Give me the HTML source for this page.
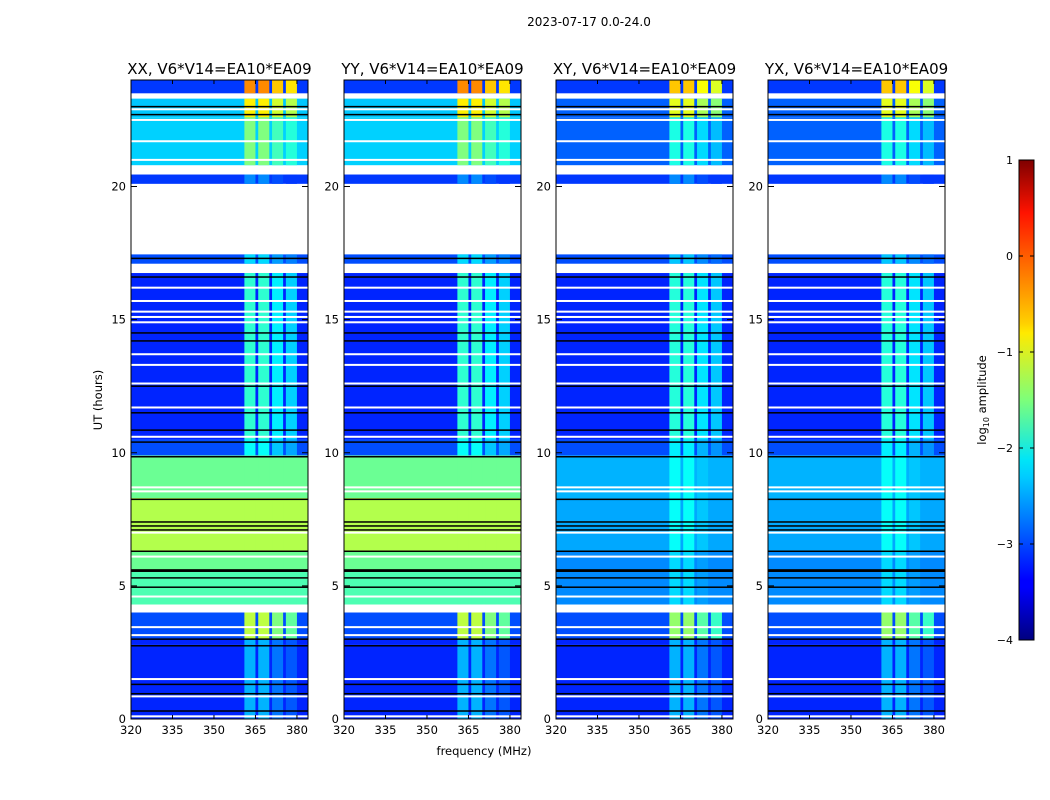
<!DOCTYPE html>
<html><head><meta charset="utf-8"><style>
body{margin:0;background:#fff;}
svg{display:block;font-family:"DejaVu Sans","Liberation Sans",sans-serif;}
</style></head><body>
<svg id="fig" width="1050" height="800" viewBox="0 0 1050 800">
<defs>
<linearGradient id="jet" x1="0" y1="1" x2="0" y2="0">
<stop offset="0" stop-color="#00007f"/><stop offset="0.11" stop-color="#0000ff"/><stop offset="0.125" stop-color="#0000ff"/>
<stop offset="0.34" stop-color="#00ccff"/><stop offset="0.375" stop-color="#00e5f7"/><stop offset="0.5" stop-color="#7dff7a"/>
<stop offset="0.64" stop-color="#ffea00"/><stop offset="0.66" stop-color="#ffd000"/><stop offset="0.89" stop-color="#ff1300"/><stop offset="1" stop-color="#7f0000"/>
</linearGradient>
</defs>
<text x="589" y="26" font-size="12" text-anchor="middle">2023-07-17 0.0-24.0</text>
<text x="484" y="755" font-size="11.5" text-anchor="middle">frequency (MHz)</text>
<text transform="translate(102,400) rotate(-90)" font-size="11.5" text-anchor="middle">UT (hours)</text>
<g id="panels"></g>
<g id="cbar">
<rect x="1019" y="160" width="15" height="480" fill="url(#jet)" stroke="#000" stroke-width="1"/>
</g>
<text transform="translate(986,400) rotate(-90)" font-size="11.5" text-anchor="middle">log<tspan font-size="8" dy="3">10</tspan><tspan dy="-3"> amplitude</tspan></text>
</svg>
<script>
const panelTitles=["XX, V6*V14=EA10*EA09","YY, V6*V14=EA10*EA09","XY, V6*V14=EA10*EA09","YX, V6*V14=EA10*EA09"];
const panelCross=[false,false,true,true];
const segStart=[0.0,2.8,3.0,4.0,4.3,5.6,6.3,8.3,9.9,10.5,16.75,17.1,17.45,20.1,20.45,20.8,22.6,23.3,23.5];
const segEnd  =[2.8,3.0,4.0,4.3,5.6,6.3,8.3,9.9,10.5,16.75,17.1,17.45,20.1,20.45,20.8,22.6,23.3,23.5,24.0];
const basePar =[-3.2,-3.2,-3.0,null,-1.75,-1.6,-1.25,-1.6,-3.0,-3.2,null,-3.0,null,-3.1,null,-2.35,-2.4,null,-3.1];
const baseCross=[-3.2,-3.2,-3.0,null,-2.7,-2.7,-2.55,-2.5,-3.0,-3.2,null,-3.0,null,-3.1,null,-2.9,-2.9,null,-3.1];
const rfiPar  =[-2.5,-2.5,-1.2,null,-1.75,-1.6,-1.4,-1.7,-2.1,-1.9,null,-2.3,null,-2.7,null,-1.5,-0.8,null,-0.3];
const rfiCross=[-2.5,-2.5,-1.4,null,-2.3,-2.3,-2.1,-2.1,-2.2,-1.95,null,-2.4,null,-2.7,null,-2.0,-1.0,null,-0.6];
const rfiLo=[361,366,371,376];
const rfiHi=[365,370,375,380];
const rfiW =[1.0,1.0,0.8,0.7];
const whiteLines=[0.1,0.85,1.5,3.15,3.45,4.6,6.1,7.0,8.55,8.7,10.6,11.7,12.6,13.3,13.7,14.9,15.1,15.3,15.7,16.2,21.0,21.7,22.5,22.9];
const blackLines=[0.3,0.95,1.3,2.75,3.0,4.95,5.3,5.55,5.6,6.3,7.1,7.25,7.4,8.25,9.85,10.4,10.85,11.5,12.5,14.2,14.5,16.6,17.3,22.7,23.0];
const xTicks=[320,335,350,365,380];
const yTicks=[0,5,10,15,20];
const cbTicks=[1,0,-1,-2,-3,-4];

function jet(v){let t=(v+4)/5;t=Math.max(0,Math.min(1,t));
 const f=(x)=>Math.max(0,Math.min(1,x));
 const r=f(1.5-Math.abs(4*t-3)),g=f(1.5-Math.abs(4*t-2)),b=f(1.5-Math.abs(4*t-1));
 return `rgb(${Math.round(r*255)},${Math.round(g*255)},${Math.round(b*255)})`;}
const NS="http://www.w3.org/2000/svg";
function el(tag,attrs,parent){const e=document.createElementNS(NS,tag);for(const k in attrs)e.setAttribute(k,attrs[k]);parent.appendChild(e);return e;}
const panelX=[131,344,556,768],PW=177,PT=80,PB=719;
const fx=(f,x0)=>x0+(f-320)/64*PW;
const hy=(h)=>PB-h/24*(PB-PT);
const cy=(v)=>640-(v+4)/5*480;
const root=document.getElementById('panels');
panelX.forEach((x0,p)=>{
 const g=el('g',{},root);
 
 
 const cross=panelCross[p];
 for(let i=0;i<segStart.length;i++){
  const b=cross?baseCross[i]:basePar[i];if(b===null)continue;
  const y1=hy(segEnd[i]),y2=hy(segStart[i]);
  const r=el('rect',{x:x0,y:y1,width:PW,height:y2-y1,fill:jet(b)},g);
  
  
  const rv=cross?rfiCross[i]:rfiPar[i];
  for(let c=0;c<rfiLo.length;c++){
   const v=Math.max(b,rv-(1-rfiW[c])*1.5);
   const rc=el('rect',{x:fx(rfiLo[c],x0),y:y1,width:fx(rfiHi[c],x0)-fx(rfiLo[c],x0),height:y2-y1,fill:jet(v)},g);
   
   
  }
 }
 whiteLines.forEach(h=>{const l=el('rect',{x:x0,y:hy(h)-1,width:PW,height:2,fill:'#fff'},g);
  
  });
 blackLines.forEach(h=>{const l=el('rect',{x:x0,y:hy(h)-0.75,width:PW,height:1.5,fill:'#000'},g);
  
  });
 const fr=el('rect',{x:x0,y:PT,width:PW,height:PB-PT,fill:'none',stroke:'#000','stroke-width':1},g);
 
 
 const t=el('text',{x:x0+PW/2,y:74,'font-size':15,'text-anchor':'middle'},g);t.textContent=panelTitles[p];
 
 
 xTicks.forEach(v=>{const X=fx(v,x0);el('line',{x1:X,x2:X,y1:PB,y2:PB-4,stroke:'#000'},g);el('line',{x1:X,x2:X,y1:PT,y2:PT+4,stroke:'#000'},g);
  const tt=el('text',{x:X,y:PB+15,'font-size':11.5,'text-anchor':'middle'},g);tt.textContent=v;
  
  });
 yTicks.forEach(v=>{const Y=hy(v);el('line',{x1:x0,x2:x0+6,y1:Y,y2:Y,stroke:'#000'},g);el('line',{x1:x0+PW,x2:x0+PW-6,y1:Y,y2:Y,stroke:'#000'},g);
  const tt=el('text',{x:x0-5,y:Y+4,'font-size':11.5,'text-anchor':'end'},g);tt.textContent=v;
  
  });
});
const cb=document.getElementById('cbar');
cbTicks.forEach(v=>{const Y=cy(v);el('line',{x1:1019,x2:1023,y1:Y,y2:Y,stroke:'#000'},cb);el('line',{x1:1034,x2:1030,y1:Y,y2:Y,stroke:'#000'},cb);
 const tt=el('text',{x:1013,y:Y+4,'font-size':11,'text-anchor':'end'},cb);tt.textContent=v<0?'\u2212'+(-v):v;
 
 });
</script>
</body></html>
